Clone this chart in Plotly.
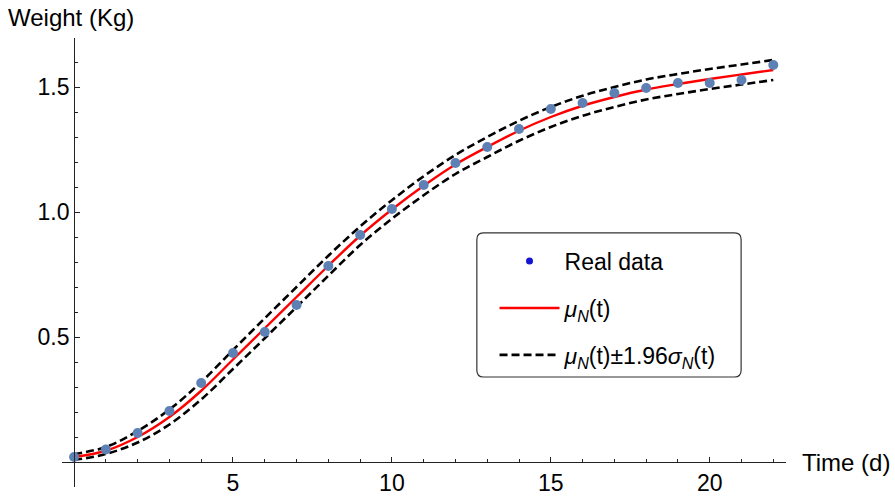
import plotly.graph_objects as go

# ---- data ----
days = list(range(0, 23))
real_weight = [0.02, 0.05, 0.116, 0.204, 0.316, 0.436, 0.52, 0.628, 0.784, 0.908, 1.012,
               1.108, 1.196, 1.26, 1.332, 1.412, 1.436, 1.476, 1.496, 1.516, 1.516, 1.528, 1.588]
mu_n = [0.02, 0.045, 0.10, 0.18, 0.285, 0.41, 0.535, 0.66, 0.785, 0.905, 1.01,
        1.105, 1.19, 1.26, 1.325, 1.38, 1.425, 1.46, 1.49, 1.512, 1.532, 1.55, 1.568]
upper = [0.032, 0.06, 0.124, 0.21, 0.32, 0.448, 0.575, 0.70, 0.825, 0.942, 1.047,
         1.143, 1.228, 1.30, 1.365, 1.42, 1.465, 1.50, 1.53, 1.552, 1.572, 1.59, 1.608]
lower = [0.008, 0.032, 0.078, 0.15, 0.25, 0.372, 0.495, 0.62, 0.745, 0.868, 0.973,
         1.067, 1.152, 1.22, 1.285, 1.34, 1.385, 1.42, 1.45, 1.472, 1.492, 1.51, 1.528]

x_ticks = [5, 10, 15, 20]
y_ticks = [0.5, 1.0, 1.5]
y_tick_text = ["0.5", "1.0", "1.5"]

XMIN, XMAX = -0.38, 22.4
YMIN, YMAX = -0.1, 1.696

FONT = "Liberation Sans, Arial, sans-serif"
FS = 23
FS_TITLE = 24

fig = go.Figure()

fig.add_trace(go.Scatter(x=days, y=upper, mode="lines", line=dict(color="black", width=2.6, dash="8px,4px", shape="spline"),
                         showlegend=False, legendgroup="c", hoverinfo="skip"))
fig.add_trace(go.Scatter(x=days, y=lower, mode="lines", line=dict(color="black", width=2.6, dash="8px,4px", shape="spline"),
                         name="<i>μ</i><sub><i>N</i></sub>(t)±1.96<i>σ</i><sub><i>N</i></sub>(t)", legendgroup="c", legendrank=3))
fig.add_trace(go.Scatter(x=days, y=mu_n, mode="lines", line=dict(color="red", width=2.4, shape="spline"),
                         name="<i>μ</i><sub><i>N</i></sub>(t)", legendgroup="b", legendrank=2))
fig.add_trace(go.Scatter(x=days, y=real_weight, mode="markers",
                         marker=dict(color="rgb(94,129,181)", size=10), showlegend=False))
# legend-only entry for the real data (the legend dot is a deeper blue)
fig.add_trace(go.Scatter(x=[None], y=[None], mode="markers", marker=dict(color="rgb(20,20,210)", size=7),
                         name="Real data", legendgroup="a", legendrank=1))

# rounded legend frame (paper coords)
x0, x1, y0, y1 = 0.573, 0.938, 0.245, 0.566
rx, ry = 0.009, 0.015
path = (f"M{x0+rx},{y0} L{x1-rx},{y0} Q{x1},{y0} {x1},{y0+ry} L{x1},{y1-ry} Q{x1},{y1} {x1-rx},{y1} "
        f"L{x0+rx},{y1} Q{x0},{y1} {x0},{y1-ry} L{x0},{y0+ry} Q{x0},{y0} {x0+rx},{y0} Z")
fig.add_shape(type="path", path=path, xref="paper", yref="paper", line=dict(color="#333", width=1.2),
              fillcolor="white", layer="below")

xpos = (0 - YMIN) / (YMAX - YMIN)
ypos = (0 - XMIN) / (XMAX - XMIN)

fig.update_layout(
    width=895, height=496,
    margin=dict(l=62, r=109, t=38, b=9),
    plot_bgcolor="white", paper_bgcolor="white",
    font=dict(family=FONT, size=FS, color="black"),
    showlegend=True,
    legend=dict(x=0.5974, y=0.551, xanchor="left", yanchor="top", bgcolor="rgba(0,0,0,0)",
                borderwidth=0, font=dict(size=FS), itemwidth=60, tracegroupgap=14,
                traceorder="grouped"),
    xaxis=dict(range=[XMIN, XMAX], showgrid=False, zeroline=False, showline=True, linecolor="#222", linewidth=1,
               anchor="free", position=xpos, tickvals=x_ticks, ticks="inside", ticklen=5, tickcolor="#222",
               minor=dict(tickmode="linear", tick0=0, dtick=1, ticks="inside", ticklen=3, tickcolor="#222"),
               tickfont=dict(size=FS), automargin=False),
    yaxis=dict(range=[YMIN, YMAX], showgrid=False, zeroline=False, showline=True, linecolor="#222", linewidth=1,
               anchor="free", position=ypos, tickvals=y_ticks, ticktext=y_tick_text, ticks="inside", ticklen=5,
               tickcolor="#222",
               minor=dict(tickmode="linear", tick0=0, dtick=0.1, ticks="inside", ticklen=3, tickcolor="#222"),
               tickfont=dict(size=FS), automargin=False),
    annotations=[
        dict(text="Weight (Kg)", xref="paper", yref="paper", x=0, y=1, xanchor="left", yanchor="middle",
             xshift=-56, yshift=21, showarrow=False, font=dict(size=FS_TITLE)),
        dict(text="Time (d)", xref="paper", yref="paper", x=1, y=xpos, xanchor="left", yanchor="middle",
             xshift=14, showarrow=False, font=dict(size=FS_TITLE)),
    ],
)

fig.write_html("out.html", config={"displayModeBar": False},
               post_script="document.body.style.margin='0';document.body.style.overflow='hidden';")
